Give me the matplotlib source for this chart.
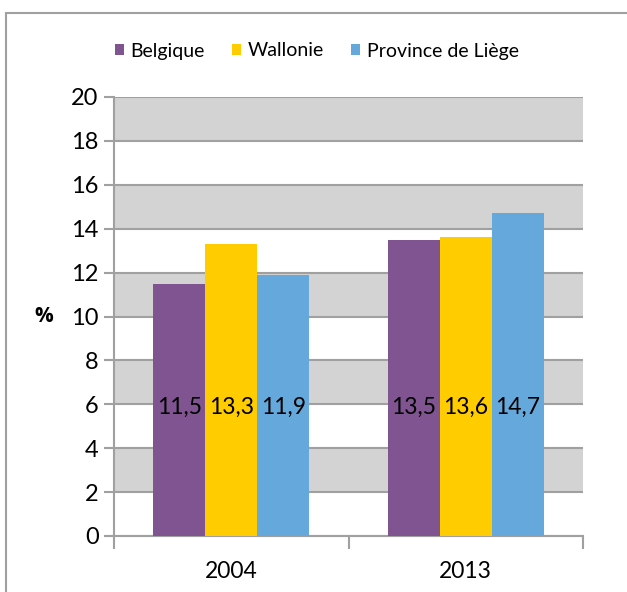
import matplotlib.pyplot as plt
import numpy as np
from matplotlib.patches import Rectangle

plt.rcParams['font.family'] = ['Lato', 'DejaVu Sans']

# données
annees = ['2004', '2013']
belgique = [11.5, 13.5]
wallonie = [13.3, 13.6]
liege = [11.9, 14.7]
series = ['Belgique', 'Wallonie', 'Province de Liège']
couleurs = ['#7F5491', '#FFCC00', '#65A9DC']

fig = plt.figure(figsize=(6.27, 5.92), dpi=100)
ax = fig.add_axes([114/627, 1-536/592, (583-114)/627, (536-97)/592])

# bandes grises alternées
for y0 in range(2, 20, 4):
    ax.axhspan(y0, y0 + 2, color='#D3D3D3', zorder=0, lw=0)

x = np.arange(len(annees))
w = 0.222
for i, (vals, nom, c) in enumerate(zip([belgique, wallonie, liege], series, couleurs)):
    pos = x + (i - 1) * w
    ax.bar(pos, vals, width=w, color=c, label=nom, zorder=3)
    for p, v in zip(pos, vals):
        ax.text(p, 5.85, f'{v:.1f}'.replace('.', ','), ha='center', va='center',
                fontsize=16.5, zorder=4)

ax.set_xlim(-0.5, 1.5)
ax.set_ylim(0, 20)
ax.set_yticks(range(0, 21, 2))
ax.yaxis.grid(True, color='#A0A0A0', lw=1.5)
ax.set_axisbelow(True)
ax.tick_params(axis='y', labelsize=17, length=7, width=1.5, color='#A0A0A0', pad=4)

# ticks aux limites des catégories, libellés au centre
ax.set_xticks([-0.5, 0.5, 1.5])
ax.set_xticklabels([])
ax.set_xticks(x, minor=True)
ax.set_xticklabels(annees, minor=True)
ax.tick_params(axis='x', which='major', length=9, width=1.5, color='#A0A0A0')
ax.tick_params(axis='x', which='minor', length=0, labelsize=16.5, pad=18)

for s in ['top', 'right']:
    ax.spines[s].set_visible(False)
for s in ['left', 'bottom']:
    ax.spines[s].set_color('#A0A0A0')
    ax.spines[s].set_linewidth(1.5)

ax.set_ylabel('%', rotation=0, fontsize=15, fontweight='bold', family=['Open Sans', 'DejaVu Sans'],
              labelpad=20, va='center')

fig.legend(loc='center', bbox_to_anchor=(0.505, 1-51/592), ncol=3, frameon=False,
           fontsize=14, handlelength=0.45, handleheight=0.45, handletextpad=0.35,
           columnspacing=1.4)

# cadre du graphique
fig.patches.append(Rectangle((6/627, -0.1), 1.2, 1 - 13/592 + 0.1, transform=fig.transFigure,
                             fill=False, edgecolor='#A0A0A0', lw=1.5, figure=fig))

plt.savefig('out.png')
